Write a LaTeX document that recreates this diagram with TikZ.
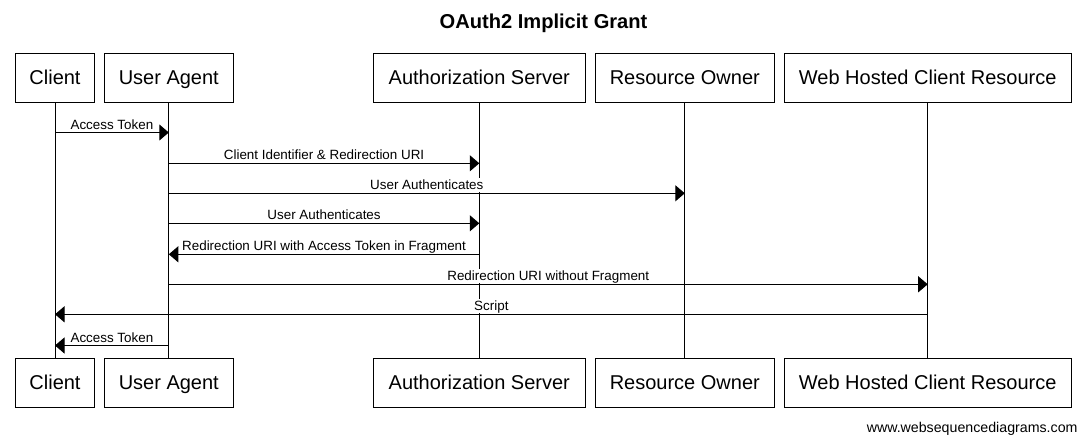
\documentclass[tikz,border=0pt]{standalone}
\usepackage{fontspec}
\setmainfont{Liberation Sans}
\usetikzlibrary{arrows.meta}

% one message between two lifelines at a given height
\newcommand\seqmsg[4]{%
  \draw[msg] (#1.south |- 0,#3) -- node[lbl]{#4} (#2.south |- 0,#3);}

\begin{document}
\begin{tikzpicture}[x=1pt,y=-1pt,
  actor/.style={draw, line width=1pt, inner sep=0pt, minimum height=49pt,
    font=\fontsize{20}{22}\selectfont, text height=14.3pt, text depth=0pt},
  life/.style={line width=1pt},
  msg/.style={line width=1pt, -{Triangle[length=9.5pt,width=16pt]}},
  lbl/.style={fill=white, inner xsep=1pt, inner ysep=0pt,
    font=\fontsize{13.4}{15}\selectfont, text height=12pt, text depth=2.6pt,
    anchor=base, yshift=3.5pt}
]
\useasboundingbox (0,0) rectangle (1086,442);

% title
\node[anchor=base, font=\fontsize{20.1}{22}\selectfont\bfseries] (title) at (543.5,28.3) {OAuth2 Implicit Grant};

% participants, top row
\node[actor, minimum width=79.4pt]  (client)  at (55,77.8)    {Client};
\node[actor, minimum width=129pt]   (agent)   at (168.8,77.8) {User Agent};
\node[actor, minimum width=212pt]   (authsrv) at (479.3,77.8) {Authorization Server};
\node[actor, minimum width=179pt]   (owner)   at (684.8,77.8) {Resource Owner};
\node[actor, minimum width=286.7pt] (webres)  at (927.7,77.8) {Web Hosted Client Resource};

% participants, bottom row
\node[actor, minimum width=79.4pt]  (clientB)  at (55,382.8)    {Client};
\node[actor, minimum width=129pt]   (agentB)   at (168.8,382.8) {User Agent};
\node[actor, minimum width=212pt]   (authsrvB) at (479.3,382.8) {Authorization Server};
\node[actor, minimum width=179pt]   (ownerB)   at (684.8,382.8) {Resource Owner};
\node[actor, minimum width=286.7pt] (webresB)  at (927.7,382.8) {Web Hosted Client Resource};

% lifelines
\draw[life] (client.south)  -- (clientB.north);
\draw[life] (agent.south)   -- (agentB.north);
\draw[life] (authsrv.south) -- (authsrvB.north);
\draw[life] (owner.south)   -- (ownerB.north);
\draw[life] (webres.south)  -- (webresB.north);

% messages
\seqmsg{client}{agent}{132.5}{Access Token}
\seqmsg{agent}{authsrv}{163.3}{Client Identifier \& Redirection URI}
\seqmsg{agent}{owner}{193.3}{User Authenticates}
\seqmsg{agent}{authsrv}{223.3}{User Authenticates}
\seqmsg{authsrv}{agent}{254.3}{Redirection URI with Access Token in Fragment}
\seqmsg{agent}{webres}{284.3}{Redirection URI without Fragment}
\seqmsg{webres}{client}{314.3}{Script}
\seqmsg{agent}{client}{345.5}{Access Token}

% footer
\node[anchor=base east, inner sep=0pt, font=\fontsize{14.2}{16}\selectfont] (credit) at (1077.7,432) {www.websequencediagrams.com};
\end{tikzpicture}
\end{document}
